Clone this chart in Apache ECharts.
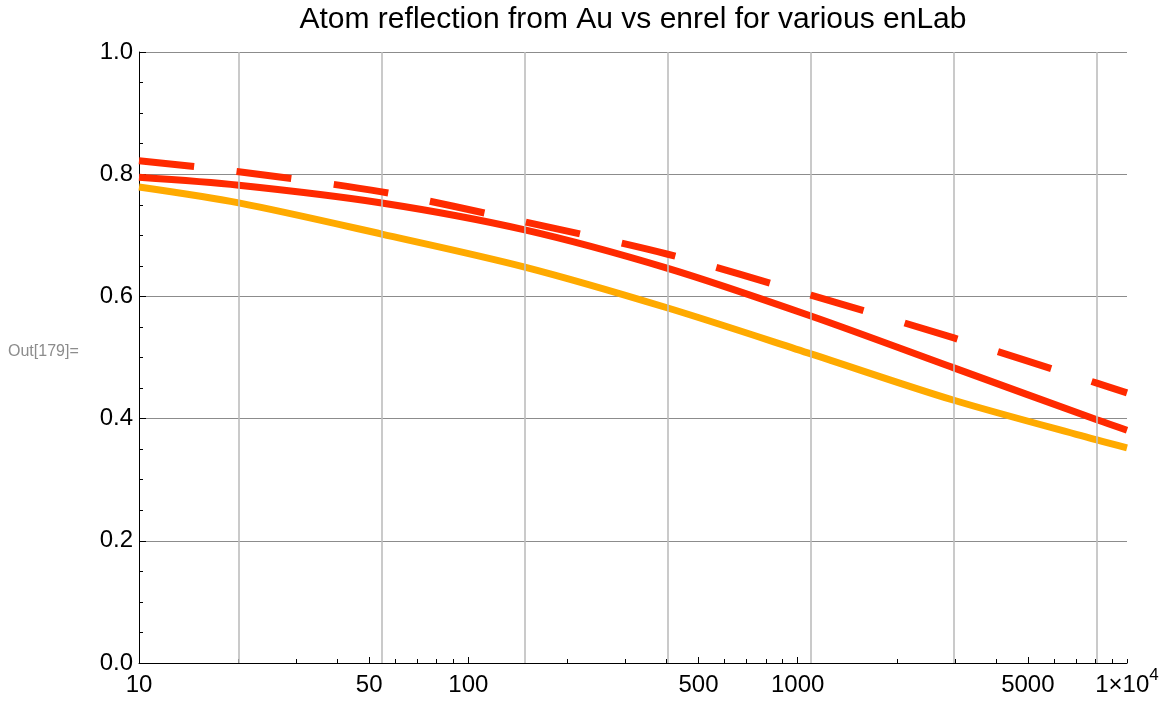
<!DOCTYPE html>
<html><head><meta charset="utf-8">
<script src="https://cdn.jsdelivr.net/npm/echarts@6/dist/echarts.min.js"></script>
<style>html,body{margin:0;padding:0;background:#fff}#c{width:1166px;height:702px}</style>
</head><body><div id="c"></div>
<script>
// enrel sample positions (x)
const enrel = [10, 20.09, 54.6, 148.4, 403.4, 1096.6, 2981, 8103, 10000];
// reflection values
const orangeSeries = [0.779, 0.753, 0.702, 0.648, 0.581, 0.506, 0.430, 0.365, 0.352];
const redSolidSeries = [0.795, 0.782, 0.753, 0.709, 0.646, 0.568, 0.483, 0.398, 0.381];
const redDashedSeries = [0.822, 0.804, 0.771, 0.722, 0.669, 0.602, 0.532, 0.458, 0.442];
// axis ticks / labels
const xLabelValues = [10, 50, 100, 500, 1000, 5000, 10000];
const xMajorTicks = [50, 100, 500, 1000, 5000];
const xMinorTicks = [20, 30, 40, 60, 70, 80, 90, 200, 300, 400, 600, 700, 800, 900, 2000, 3000, 4000, 6000, 7000, 8000, 9000, 10000];
const xGridValues = [20.0855, 54.598, 148.413, 403.429, 1096.63, 2980.96, 8103.08];

const FONT = '"Liberation Sans", Arial, Helvetica, sans-serif';
const pairs = ys => enrel.map((x, i) => [x, ys[i]]);
const gridRect = {left: 139, right: 39, top: 52, bottom: 39, containLabel: false};

const chart = echarts.init(document.getElementById('c'), null, {renderer: 'canvas'});
chart.setOption({
  animation: false,
  backgroundColor: '#fff',
  grid: [Object.assign({}, gridRect), Object.assign({}, gridRect)],
  graphic: [
    {type: 'text', x: 633, y: 20, style: {text: 'Atom reflection from Au vs enrel for various enLab', font: '30px ' + FONT, fill: '#000', align: 'center', verticalAlign: 'middle'}},
    {type: 'text', x: 8, y: 352, style: {text: 'Out[179]=', font: '16px ' + FONT, fill: '#8c8c8c', align: 'left', verticalAlign: 'middle'}}
  ],
  xAxis: [
    {
      type: 'log', logBase: 10, min: 10, max: 10000, gridIndex: 0,
      axisLine: {show: true, lineStyle: {color: '#000', width: 1}},
      axisTick: {show: true, inside: true, length: 6, lineStyle: {color: '#000'}, customValues: xMajorTicks},
      minorTick: {show: false},
      splitLine: {show: false},
      axisLabel: {
        show: true, customValues: xLabelValues, margin: 4, color: '#000', fontFamily: FONT, fontSize: 24,
        formatter: v => Math.abs(v - 10000) < 1 ? '{a|1×10}{s|4}' : '{a|' + Math.round(v) + '}',
        rich: {
          a: {fontSize: 24, fontFamily: FONT, color: '#000', lineHeight: 36},
          s: {fontSize: 17, fontFamily: FONT, color: '#000', lineHeight: 17, verticalAlign: 'top'}
        }
      }
    },
    {
      type: 'log', logBase: 10, min: 10, max: 10000, gridIndex: 1,
      axisLine: {show: false},
      axisTick: {show: true, inside: true, length: 4, lineStyle: {color: '#000'}, customValues: xMinorTicks},
      axisLabel: {show: false},
      splitLine: {show: false}
    }
  ],
  yAxis: [
    {
      type: 'value', min: 0, max: 1, interval: 0.2, gridIndex: 0,
      axisLine: {show: true, lineStyle: {color: '#000', width: 1}},
      axisTick: {show: true, inside: true, length: 7, lineStyle: {color: '#000'}},
      minorTick: {show: true, splitNumber: 4, length: 4, lineStyle: {color: '#000'}},
      splitLine: {show: true, lineStyle: {color: '#8c8c8c', width: 1}},
      axisLabel: {margin: 6, color: '#000', fontFamily: FONT, fontSize: 24, formatter: v => v.toFixed(1)}
    },
    {type: 'value', min: 0, max: 1, gridIndex: 1, show: false}
  ],
  series: [
    {
      type: 'line', xAxisIndex: 0, yAxisIndex: 0, data: [], z: 1, silent: true,
      markLine: {
        silent: true, symbol: ['none', 'none'], label: {show: false},
        lineStyle: {color: '#bdbdbd', width: 1.6, type: 'solid'},
        data: xGridValues.map(v => ({xAxis: v}))
      }
    },
    {type: 'line', name: 'orange', xAxisIndex: 0, yAxisIndex: 0, data: pairs(orangeSeries), smooth: 0.3, showSymbol: false, z: 3,
      lineStyle: {color: '#ffaa00', width: 7, cap: 'butt'}},
    {type: 'line', name: 'red', xAxisIndex: 0, yAxisIndex: 0, data: pairs(redSolidSeries), smooth: 0.3, showSymbol: false, z: 4,
      lineStyle: {color: '#ff2a00', width: 7, cap: 'butt'}},
    {type: 'line', name: 'redDashed', xAxisIndex: 0, yAxisIndex: 0, data: pairs(redDashedSeries), smooth: 0.3, showSymbol: false, z: 5,
      lineStyle: {color: '#ff2a00', width: 7, type: [55.5, 42.5], cap: 'butt'}}
  ]
});
</script></body></html>
